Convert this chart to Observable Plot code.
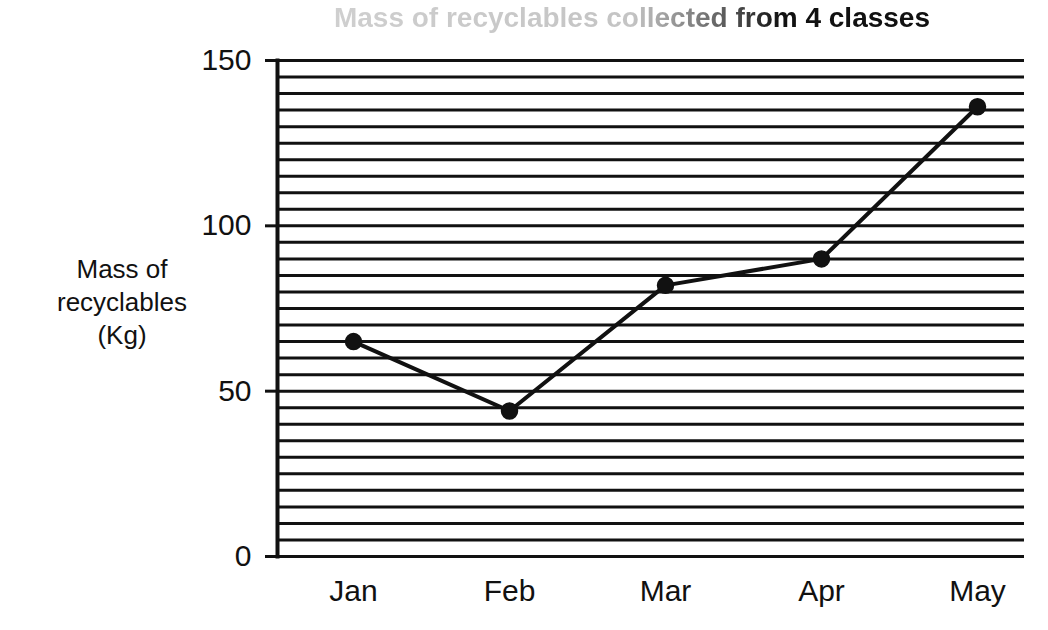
<!DOCTYPE html>
<html>
<head>
<meta charset="utf-8">
<script src="https://cdn.jsdelivr.net/npm/d3@7"></script>
<script src="https://cdn.jsdelivr.net/npm/@observablehq/plot@0.6"></script>
<style>
  html, body { margin: 0; padding: 0; background: #fff; }
  body { width: 1048px; height: 630px; position: relative; overflow: hidden; font-family: "Liberation Sans", Arial, sans-serif; }
  #title { position: absolute; right: 118px; top: 2px; font-size: 28px; font-weight: bold; line-height: 32px; white-space: nowrap; z-index: 2;
    background: linear-gradient(to right, #cfcfcf 0%, #c4c4c4 50%, #777 62%, #111 75%, #111 100%);
    -webkit-background-clip: text; background-clip: text; color: transparent; }
  #ylabel { position: absolute; left: 52px; top: 253px; width: 140px; text-align: center; font-size: 26px; line-height: 33px; color: #111; z-index: 2; }
  #chart { position: absolute; top: 0; left: 0; }
</style>
</head>
<body>
<div id="title">Mass of recyclables collected from 4 classes</div>
<div id="ylabel">Mass of<br>recyclables<br>(Kg)</div>
<div id="chart"></div>
<script>
const months = ["Jan", "Feb", "Mar", "Apr", "May"];
const mass = [65, 44, 82, 90, 136];
const yTicks = [0, 50, 100, 150];
const gridValues = d3.range(0, 151, 5);

const data = months.map((m, i) => ({month: m, mass: mass[i]}));

const chart = Plot.plot({
  width: 1048,
  height: 630,
  marginLeft: 277,
  marginRight: 24,
  marginTop: 60,
  marginBottom: 74,
  style: {fontFamily: "'Liberation Sans', Arial, sans-serif", color: "#111", background: "#fff"},
  x: {type: "point", domain: months, range: [353, 977], padding: 0},
  y: {domain: [0, 150]},
  marks: [
    Plot.ruleY(gridValues, {stroke: "#111", strokeWidth: 3}),
    Plot.frame({anchor: "left", stroke: "#111", strokeWidth: 4}),
    Plot.axisY({ticks: yTicks, tickSize: 12, tickPadding: 14, fontSize: 30, label: null, stroke: "#111", strokeWidth: 3}),
    Plot.axisX({tickSize: 0, tickPadding: 23, fontSize: 30, label: null}),
    Plot.line(data, {x: "month", y: "mass", stroke: "#111", strokeWidth: 4}),
    Plot.dot(data, {x: "month", y: "mass", r: 8, fill: "#111", stroke: "#111"})
  ]
});
document.getElementById("chart").appendChild(chart);
</script>
</body>
</html>
